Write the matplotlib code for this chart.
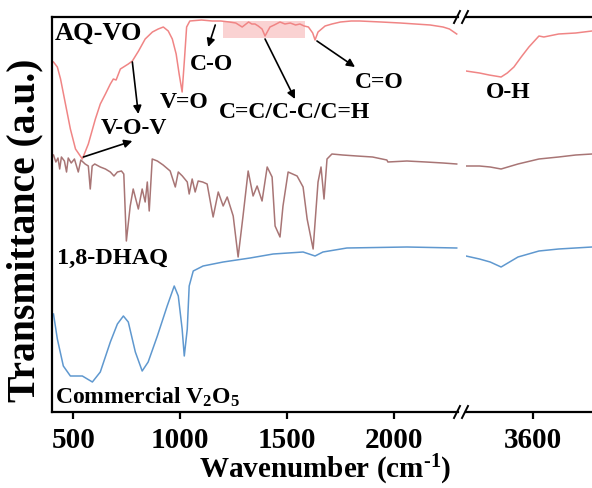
import numpy as np
import matplotlib
matplotlib.use('Agg')
from matplotlib import pyplot as plt
from matplotlib.lines import Line2D
from matplotlib.patches import Rectangle

plt.rcParams['font.family'] = ['Liberation Serif', 'DejaVu Serif']
plt.rcParams['font.weight'] = 'bold'
plt.rcParams['mathtext.fontset'] = 'custom'
plt.rcParams['mathtext.rm'] = 'Liberation Serif:bold'
plt.rcParams['mathtext.bf'] = 'Liberation Serif:bold'
plt.rcParams['mathtext.it'] = 'Liberation Serif:bold'
plt.rcParams['mathtext.default'] = 'rm'

# AQ-VO spectrum (left part 400-2300, right part 3280-3880)
aqvo_wn = [407, 425, 440, 463, 486, 510, 542, 570, 603, 626, 650, 673, 687, 700, 720, 757, 776,
           805, 836, 870, 897, 921, 944, 963, 981, 995, 1009, 1020, 1030, 1045, 1100, 1150, 1190,
           1230, 1260, 1290, 1320, 1335, 1350, 1365, 1383, 1397, 1420, 1440, 1467, 1490, 1515,
           1540, 1560, 1580, 1600, 1620, 1631, 1645, 1678, 1710, 1750, 1800, 1840, 1940, 2030,
           2100, 2170, 2230, 2260, 2294]
aqvo_t = [350, 345, 333, 308, 283, 263, 253, 268, 293, 308, 318, 328, 333, 332, 343, 348, 351,
          361, 373, 380, 383, 385, 381, 373, 358, 338, 320, 353, 385, 391, 392, 391, 391,
          390, 389, 385, 390, 388, 388, 386, 383, 376, 385, 387, 390, 388, 389,
          387, 388, 386, 385, 379, 372, 380, 386, 388, 390, 391, 391, 390, 389,
          388, 387, 385, 383, 378]
aqvo_wn_r = [3287, 3350, 3395, 3451, 3480, 3511, 3545, 3581, 3628, 3651, 3720, 3800, 3876]
aqvo_t_r = [341, 339, 337, 335, 339, 345, 355, 365, 376, 375, 378, 379, 381]

# 1,8-DHAQ spectrum
dhaq_wn = [407, 418, 428, 436, 444, 458, 468, 476, 490, 505, 523, 535, 555, 570, 579, 588, 600,
           626, 650, 673, 690, 706, 725, 736, 748, 766, 780, 804, 822, 836, 846, 855, 869, 893,
           920, 953, 977, 991, 1010, 1033, 1042, 1056, 1070, 1084, 1105, 1126, 1154, 1178, 1201,
           1220, 1248, 1271, 1294, 1318, 1341, 1360, 1383, 1407, 1430, 1444, 1467, 1481, 1505,
           1547, 1575, 1594, 1622, 1645, 1659, 1673, 1687, 1710, 1760, 1827, 1900, 1967, 1972,
           2061, 2150, 2230, 2294]
dhaq_t = [257, 250, 254, 243, 255, 251, 240, 254, 249, 253, 240, 252, 248, 246, 223, 246, 248,
          245, 243, 240, 236, 240, 241, 238, 171, 206, 223, 203, 223, 210, 230, 201, 253, 251,
          247, 241, 225, 240, 236, 230, 218, 233, 220, 231, 230, 228, 195, 220, 206,
          215, 196, 155, 196, 241, 216, 226, 211, 245, 235, 186, 175, 206, 240,
          236, 225, 193, 163, 230, 245, 213, 253, 258, 257, 256, 255, 252, 250,
          251, 250, 249, 248]
dhaq_wn_r = [3287, 3350, 3400, 3451, 3530, 3628, 3720, 3800, 3876]
dhaq_t_r = [246, 246, 245, 243, 248, 253, 255, 257, 258]

# commercial V2O5 spectrum
v2o5_wn = [407, 425, 453, 486, 542, 589, 626, 673, 706, 734, 757, 790, 822, 850, 893, 939, 972,
           991, 1009, 1019, 1033, 1042, 1061, 1107, 1201, 1327, 1435, 1575, 1631, 1668, 1780,
           2061, 2294]
v2o5_t = [98, 73, 46, 36, 36, 30, 40, 70, 88, 96, 90, 60, 41, 50, 76, 106, 126,
          116, 83, 56, 83, 126, 141, 146, 150, 154, 158, 160, 156, 160, 164,
          165, 164]
v2o5_wn_r = [3287, 3350, 3400, 3451, 3530, 3628, 3720, 3876]
v2o5_t_r = [156, 153, 150, 145, 155, 161, 163, 165]

c_aqvo = '#F08585'
c_dhaq = '#A87575'
c_v2o5 = '#5F98CF'

W, H = 592, 489
fig = plt.figure(figsize=(W / 100, H / 100), dpi=100)
y0 = (H - 413) / H
hh = 395 / H
ax1 = fig.add_axes([52 / W, y0, (458 - 52) / W, hh])
ax2 = fig.add_axes([466 / W, y0, (W - 466) / W, hh])

for ax in (ax1, ax2):
    ax.set_ylim(0, 395)
    ax.set_yticks([])
    for s in ax.spines.values():
        s.set_linewidth(1.6)
    ax.tick_params(axis='x', direction='out', length=5, width=1.6, labelsize=21, pad=5)

ax1.spines['right'].set_visible(False)
ax2.spines['left'].set_visible(False)
ax2.spines['right'].set_visible(False)
ax1.set_xlim(400, 2300)
ax2.set_xlim(3287, 3876)
ax1.set_xticks([500, 1000, 1500, 2000])
ax2.set_xticks([3600])

lw = 1.1
ax1.plot(aqvo_wn, aqvo_t, color=c_aqvo, lw=lw)
ax1.plot(dhaq_wn, dhaq_t, color=c_dhaq, lw=lw)
ax1.plot(v2o5_wn, v2o5_t, color=c_v2o5, lw=lw)
ax2.plot(aqvo_wn_r, aqvo_t_r, color=c_aqvo, lw=lw)
ax2.plot(dhaq_wn_r, dhaq_t_r, color=c_dhaq, lw=lw)
ax2.plot(v2o5_wn_r, v2o5_t_r, color=c_v2o5, lw=lw)

# shaded C=C region
ax1.add_patch(Rectangle((1201, 374), 383, 17, color='#F7B5B5', alpha=0.6, lw=0, zorder=0))

fs = 17
ax1.text(617, 380, 'AQ-VO', fontsize=19, ha='center', va='center')
ax1.text(785, 285, 'V-O-V', fontsize=fs, ha='center', va='center')
ax1.text(1019, 311, 'V=O', fontsize=fs, ha='center', va='center')
ax1.text(1145, 348, 'C-O', fontsize=fs, ha='center', va='center')
ax1.text(1533, 301, 'C=C/C-C/C=H', fontsize=fs, ha='center', va='center')
ax1.text(1930, 331, 'C=O', fontsize=fs, ha='center', va='center')
ax2.text(3483, 321, 'O-H', fontsize=fs, ha='center', va='center')
ax1.text(685, 155, '1,8-DHAQ', fontsize=17.5, ha='center', va='center')
ax1.text(846, 16, r'Commercial V$_2$O$_5$', fontsize=17, ha='center', va='center')

arrow = dict(arrowstyle='-|>', color='black', lw=1.2, mutation_scale=12, shrinkA=0, shrinkB=0)
ax1.annotate('', xy=(1131, 365), xytext=(1164, 387), arrowprops=arrow)
ax1.annotate('', xy=(804, 298), xytext=(776, 350), arrowprops=arrow)
ax1.annotate('', xy=(776, 271), xytext=(547, 255), arrowprops=arrow)
ax1.annotate('', xy=(1537, 313), xytext=(1397, 373), arrowprops=arrow)
ax1.annotate('', xy=(1818, 345), xytext=(1640, 371), arrowprops=arrow)

# break marks
for yb in (H - 413, H - 18):
    for xb in (457, 465):
        fig.add_artist(Line2D([(xb - 3) / W, (xb + 3) / W], [(yb - 6) / H, (yb + 6) / H],
                              color='black', lw=1.4))

fig.text(25 / W, 0.528, 'Transmittance (a.u.)', rotation=90, fontsize=28.5, ha='center', va='center')
fig.text(325 / W, 19 / H, r'Wavenumber (cm$^{\text{-1}}$)', fontsize=21, ha='center', va='center')

fig.savefig('out.png', dpi=100)
